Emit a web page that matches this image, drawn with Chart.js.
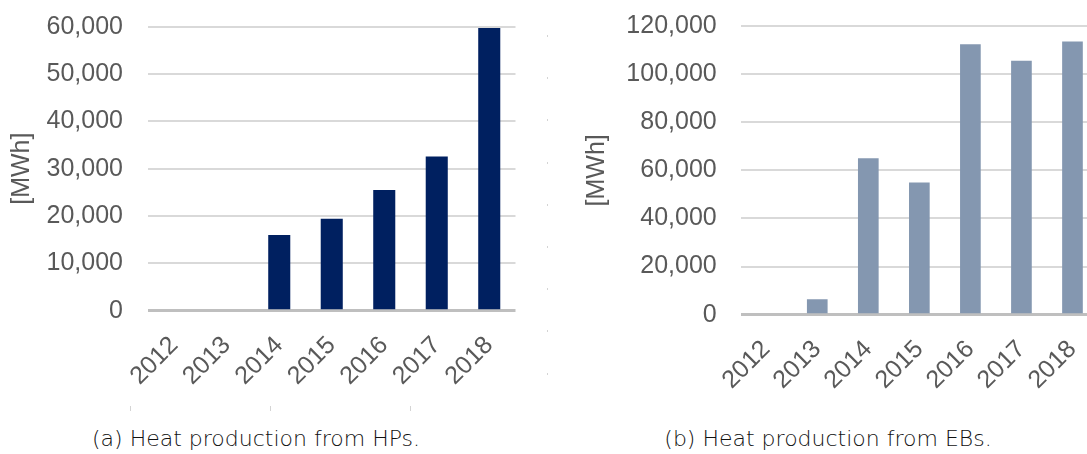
<!DOCTYPE html>
<html>
<head>
<meta charset="utf-8">
<title>Heat production from HPs and EBs</title>
<script src="https://cdn.jsdelivr.net/npm/chart.js@4.4.1/dist/chart.umd.min.js"></script>
<style>
  html, body { margin: 0; padding: 0; background: #fff; width: 1087px; height: 454px; overflow: hidden; position: relative; }
  .panel { position: absolute; top: 0; height: 400px; width: 560px; }
  .caption { position: absolute; top: 428px; font-family: "DejaVu Sans", sans-serif; font-weight: 200; font-size: 22px; line-height: 22px; color: #111; white-space: nowrap; transform: translateX(-50%); }
  .frame-dots { position: absolute; left: 547px; top: 35px; width: 1px; height: 345px; background: repeating-linear-gradient(to bottom, #d4d4d4 0 2px, transparent 2px 42.2px); }
  .frame-tick { position: absolute; top: 406px; width: 1px; height: 5px; background: #d4d4d4; }
</style>
</head>
<body>
<div class="panel" style="left:0"><canvas id="hpChart" width="560" height="400"></canvas></div>
<div class="panel" style="left:560px"><canvas id="ebChart" width="560" height="400"></canvas></div>
<div class="frame-dots"></div>
<div class="frame-tick" style="left:130px"></div>
<div class="frame-tick" style="left:270px"></div>
<div class="frame-tick" style="left:410px"></div>
<div class="caption" style="left:256px">(a) Heat production from HPs.</div>
<div class="caption" style="left:828px">(b) Heat production from EBs.</div>
<script>
// Years on the category axis
const years = ['2012', '2013', '2014', '2015', '2016', '2017', '2018'];

// Annual heat production [MWh]
const hpHeat = [0, 0, 16000, 19400, 25500, 32600, 59700];
const ebHeat = [0, 6400, 65000, 55000, 112400, 105600, 113600];

// Value-axis ranges
const hpAxis = { max: 60000, step: 10000 };
const ebAxis = { max: 120000, step: 20000 };

const unitLabel = '[MWh]';

const tickFont = { family: '"Liberation Sans", Arial, sans-serif', size: 25 };
const textGrey = '#595959';

function buildChart(canvasId, values, color, axis, geom) {
  return new Chart(document.getElementById(canvasId), {
    type: 'bar',
    data: {
      labels: years,
      datasets: [{
        data: values,
        backgroundColor: color,
        borderWidth: 0,
        categoryPercentage: 1.0,
        barPercentage: geom.barPct
      }]
    },
    options: {
      responsive: false,
      animation: false,
      events: [],
      layout: { padding: { left: 0, top: geom.top, right: geom.right, bottom: 0 } },
      plugins: { legend: { display: false }, tooltip: { enabled: false } },
      scales: {
        x: {
          grid: { display: false },
          border: { display: false },
          ticks: {
            color: textGrey,
            font: tickFont,
            autoSkip: false,
            minRotation: 45,
            maxRotation: 45,
            padding: geom.xPad
          },
          afterFit: (s) => { s.height = 400 - geom.bottom; }
        },
        y: {
          min: 0,
          max: axis.max,
          border: { display: false },
          grid: {
            drawTicks: false,
            color: (c) => (c.tick && c.tick.value === 0 ? '#bfbfbf' : '#d9d9d9'),
            lineWidth: (c) => (c.tick && c.tick.value === 0 ? 3 : 2)
          },
          ticks: {
            stepSize: axis.step,
            color: textGrey,
            font: tickFont,
            padding: geom.yPad,
            callback: (v) => Number(v).toLocaleString('en-US')
          },
          title: {
            display: true,
            text: unitLabel,
            color: textGrey,
            font: tickFont,
            padding: { top: geom.titlePad, bottom: 0 }
          },
          afterFit: (s) => {
            s.width = geom.left;
            s.paddingTop = 0;
            s.paddingBottom = 0;
          }
        }
      }
    }
  });
}

buildChart('hpChart', hpHeat, '#002060', hpAxis,
  { left: 148, right: 44.5, top: 26.7, bottom: 310.7, barPct: 0.42, xPad: 12, yPad: 25, titlePad: 7.5 });
buildChart('ebChart', ebHeat, '#8497b0', ebAxis,
  { left: 180.7, right: 22, top: 26, bottom: 314.7, barPct: 0.405, xPad: 12, yPad: 24, titlePad: 22 });
</script>
</body>
</html>
